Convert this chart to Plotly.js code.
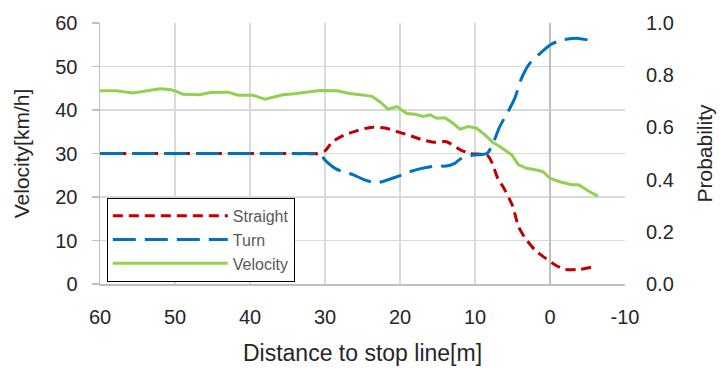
<!DOCTYPE html>
<html>
<head>
<meta charset="utf-8">
<script src="https://cdn.plot.ly/plotly-3.0.1.min.js"></script>
<style>html,body{margin:0;padding:0;background:#fff;}#chart{width:720px;height:369px;}</style>
</head>
<body>
<div id="chart"></div>
<script>
// Distance to stop line [m] and values
const straightX = [60, 55, 50, 45, 40, 35, 31, 30, 29, 27.5, 26, 24, 22, 20.5, 18.5, 17, 15.5, 13.8, 12, 10.7, 8.4, 7.8, 6.9, 6.2, 5.0, 4.2, 3.3, 2, 0.9, -0.7, -2, -4, -5.8];
const straightY = [0.5, 0.5, 0.5, 0.5, 0.5, 0.5, 0.5, 0.51, 0.545, 0.57, 0.585, 0.60, 0.598, 0.585, 0.567, 0.552, 0.543, 0.545, 0.515, 0.50, 0.494, 0.469, 0.40, 0.37, 0.30, 0.22, 0.175, 0.13, 0.105, 0.073, 0.056, 0.056, 0.066];

const turnX = [60, 55, 50, 45, 40, 35, 31, 30.7, 29.8, 28.4, 26.2, 24.9, 23.3, 22.4, 20.4, 18.7, 17.1, 15.3, 13.8, 12.7, 12, 10.2, 8.4, 7.6, 6.7, 5.6, 4.7, 3.8, 2.7, 1.3, 0, -1.6, -3.8, -6.2];
const turnY = [0.5, 0.5, 0.5, 0.5, 0.5, 0.5, 0.5, 0.498, 0.469, 0.439, 0.418, 0.401, 0.388, 0.392, 0.411, 0.43, 0.443, 0.452, 0.452, 0.462, 0.478, 0.494, 0.5, 0.539, 0.603, 0.66, 0.711, 0.788, 0.845, 0.884, 0.916, 0.935, 0.941, 0.928];

const velX = [60, 57.8, 55.6, 53.8, 52, 50.7, 50, 48.9, 46.7, 45.3, 42.9, 41.6, 39.6, 38, 35.6, 33.8, 30.7, 28.4, 26.7, 23.8, 22.7, 21.6, 20.4, 19.1, 18, 16.9, 16, 15.1, 14, 12.9, 12, 10.9, 9.8, 8.9, 7.6, 6.7, 5.1, 4.2, 3.1, 1.8, 0.9, 0, -1.3, -2.9, -3.8, -5.3, -6.4];
const velY = [44.4, 44.4, 43.9, 44.4, 44.9, 44.7, 44.4, 43.6, 43.5, 44.0, 44.1, 43.4, 43.4, 42.5, 43.5, 43.8, 44.5, 44.4, 43.8, 43.2, 41.9, 40.2, 40.8, 39.2, 39.0, 38.5, 38.9, 38.1, 38.2, 36.9, 35.6, 36.2, 35.8, 34.6, 32.5, 31.6, 29.7, 27.4, 26.6, 26.2, 25.8, 24.3, 23.5, 22.8, 22.8, 21.2, 20.2];

const xTickVals = [60, 50, 40, 30, 20, 10, 0, -10];
const xTickText = ["60", "50", "40", "30", "20", "10", "0", "-10"];

const seriesNames = ["Straight", "Turn", "Velocity"];
const xTitle = "Distance to stop line[m]";
const yTitle = "Velocity[km/h]";
const y2Title = "Probability";

const FONT = "Liberation Sans, Arial, sans-serif";

const traces = [
  {x: straightX, y: straightY, name: seriesNames[0], yaxis: "y2", mode: "lines",
   line: {color: "#C00000", width: 3, dash: "10px,6px", shape: "spline", smoothing: 0.6}},
  {x: turnX, y: turnY, name: seriesNames[1], yaxis: "y2", mode: "lines",
   line: {color: "#0070C0", width: 3, dash: "23px,9px", shape: "spline", smoothing: 0.6}},
  {x: velX, y: velY, name: seriesNames[2], yaxis: "y", mode: "lines",
   line: {color: "#92D050", width: 3}}
];

const layout = {
  width: 720, height: 369,
  margin: {l: 100, r: 95, t: 23, b: 85},
  paper_bgcolor: "#fff", plot_bgcolor: "#fff",
  font: {family: FONT, color: "#262626", size: 20},
  showlegend: true,
  legend: {x: 0.013, y: 0.33, xanchor: "left", yanchor: "top",
    bordercolor: "#000", borderwidth: 1, bgcolor: "#fff",
    font: {family: FONT, size: 16, color: "#595959"}, itemwidth: 115,
    tracegroupgap: 0},
  xaxis: {range: [60, -10], tickmode: "array", tickvals: xTickVals, ticktext: xTickText,
    showgrid: true, gridcolor: "#d9d9d9", gridwidth: 1.5,
    zeroline: true, zerolinecolor: "#bfbfbf", zerolinewidth: 1.5,
    showline: true, linecolor: "#bfbfbf", linewidth: 1.5,
    ticks: "", ticklabelstandoff: 14,
    tickfont: {family: FONT, size: 20, color: "#262626"},
    title: {text: xTitle, font: {family: FONT, size: 23, color: "#262626"}, standoff: 18}},
  yaxis: {range: [0, 60], dtick: 10,
    showgrid: true, gridcolor: "#d9d9d9", gridwidth: 1.5,
    zeroline: false,
    showline: true, linecolor: "#bfbfbf", linewidth: 1.5,
    ticks: "outside", ticklen: 7, tickcolor: "#bfbfbf", tickwidth: 1.5,
    ticklabelstandoff: 10,
    tickfont: {family: FONT, size: 20, color: "#262626"},
    title: {text: yTitle, font: {family: FONT, size: 21, color: "#262626"}, standoff: 20}},
  yaxis2: {range: [0, 1], dtick: 0.2, tickformat: ".1f", overlaying: "y", side: "right",
    showgrid: false, zeroline: false, showline: false, ticks: "",
    ticklabelstandoff: 20,
    tickfont: {family: FONT, size: 20, color: "#262626"},
    title: {text: y2Title, font: {family: FONT, size: 21, color: "#262626"}, standoff: 24}}
};

Plotly.newPlot("chart", traces, layout, {staticPlot: true, displayModeBar: false});
</script>
</body>
</html>
